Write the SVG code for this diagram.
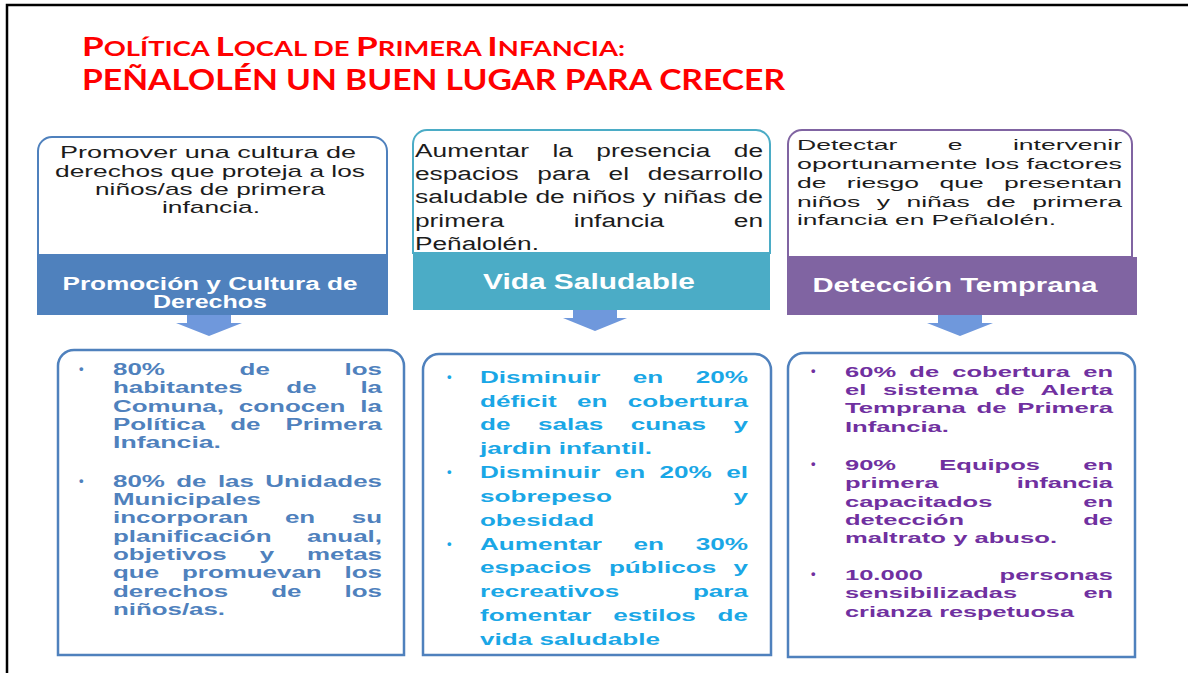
<svg xmlns="http://www.w3.org/2000/svg" width="1188" height="673" viewBox="0 0 1188 673">
<style>
.title{font-family:"Lato","Liberation Sans",Arial,sans-serif;font-weight:bold;fill:#ff0000}
.tt{font-family:"Liberation Sans",Arial,sans-serif;fill:#1c1c1c}
.hd{font-family:"Liberation Sans",Arial,sans-serif;font-weight:bold;fill:#ffffff}
.b1{font-family:"Liberation Sans",Arial,sans-serif;font-weight:bold;font-size:16px;fill:#4f81bd}
.b2{font-family:"Liberation Sans",Arial,sans-serif;font-weight:bold;font-size:16px;fill:#1aa7e6}
.b3{font-family:"Liberation Sans",Arial,sans-serif;font-weight:bold;font-size:15px;fill:#7030a0}
.bul{font-family:"Liberation Sans",Arial,sans-serif;font-size:13px}
.card{fill:#ffffff;stroke-width:2}
.low{fill:#ffffff;stroke:#4f81bd;stroke-width:2.5}
.arrow{fill:#6f98dc}
</style>
<rect x="0" y="0" width="1188" height="673" fill="#ffffff"/>
<rect x="7" y="5" width="1200" height="700" fill="none" stroke="#000000" stroke-width="2.5"/>

<g id="title">
<text class="title" x="82" y="56" textLength="543" lengthAdjust="spacingAndGlyphs"><tspan font-size="27">P</tspan><tspan font-size="21">OLÍTICA </tspan><tspan font-size="27">L</tspan><tspan font-size="21">OCAL DE </tspan><tspan font-size="27">P</tspan><tspan font-size="21">RIMERA </tspan><tspan font-size="27">I</tspan><tspan font-size="21">NFANCIA:</tspan></text>
<text class="title" x="82" y="90" font-size="29" textLength="703" lengthAdjust="spacingAndGlyphs">PEÑALOLÉN UN BUEN LUGAR PARA CRECER</text>
</g>

<g id="node-promocion">
<path class="card" stroke="#4f81bd" d="M38,255 L38,151 A14,14 0 0 1 52,137 L373,137 A14,14 0 0 1 387,151 L387,255 Z"/>
<g class="tt" font-size="17" text-anchor="middle">
<text x="208" y="158" textLength="296" lengthAdjust="spacingAndGlyphs">Promover una cultura de</text>
<text x="210" y="177" textLength="310" lengthAdjust="spacingAndGlyphs">derechos que proteja a los</text>
<text x="210" y="195" textLength="230" lengthAdjust="spacingAndGlyphs">niños/as de primera</text>
<text x="211" y="213" textLength="98" lengthAdjust="spacingAndGlyphs">infancia.</text>
</g>
<rect x="37" y="255" width="351" height="60" fill="#4f81bd"/>
<g class="hd" font-size="18" text-anchor="middle">
<text x="210" y="290" textLength="295" lengthAdjust="spacingAndGlyphs">Promoción y Cultura de</text>
<text x="210" y="308" textLength="114" lengthAdjust="spacingAndGlyphs">Derechos</text>
</g>
</g>

<g id="node-vida">
<path class="card" stroke="#4bacc6" d="M413,253 L413,144 A14,14 0 0 1 427,130 L756,130 A14,14 0 0 1 770,144 L770,253 Z"/>
<g class="tt" font-size="18">
<text x="415" y="157" textLength="348" lengthAdjust="spacingAndGlyphs" style="word-spacing:11.1px">Aumentar la presencia de</text>
<text x="415" y="180" textLength="348" lengthAdjust="spacingAndGlyphs" style="word-spacing:7.8px">espacios para el desarrollo</text>
<text x="415" y="203" textLength="348" lengthAdjust="spacingAndGlyphs">saludable de niños y niñas de</text>
<text x="415" y="227" textLength="348" lengthAdjust="spacingAndGlyphs" style="word-spacing:42.6px">primera infancia en</text>
<text x="415" y="250" textLength="124" lengthAdjust="spacingAndGlyphs">Peñalolén.</text>
</g>
<rect x="413" y="253" width="357" height="57" fill="#4bacc6"/>
<text class="hd" x="589" y="289" font-size="22" text-anchor="middle" textLength="212" lengthAdjust="spacingAndGlyphs">Vida Saludable</text>
</g>

<g id="node-deteccion">
<path class="card" stroke="#8064a2" d="M788,257 L788,144 A14,14 0 0 1 802,130 L1118,130 A14,14 0 0 1 1132,144 L1132,257 Z"/>
<g class="tt" font-size="15.5">
<text x="797" y="150" textLength="325" lengthAdjust="spacingAndGlyphs" style="word-spacing:25.2px">Detectar e intervenir</text>
<text x="797" y="169" textLength="325" lengthAdjust="spacingAndGlyphs">oportunamente los factores</text>
<text x="797" y="188" textLength="325" lengthAdjust="spacingAndGlyphs" style="word-spacing:7.6px">de riesgo que presentan</text>
<text x="797" y="207" textLength="325" lengthAdjust="spacingAndGlyphs" style="word-spacing:5.3px">niños y niñas de primera</text>
<text x="797" y="225" textLength="259" lengthAdjust="spacingAndGlyphs">infancia en Peñalolén.</text>
</g>
<rect x="787" y="257" width="350" height="58" fill="#8064a2"/>
<text class="hd" x="955" y="292" font-size="21" text-anchor="middle" textLength="285" lengthAdjust="spacingAndGlyphs">Detección Temprana</text>
</g>

<g id="connectors">
<path class="arrow" d="M187,315 L231,315 L231,323 L242,323 L209,336 L176,323 L187,323 Z"/>
<path class="arrow" d="M573,310 L617,310 L617,318 L627,318 L595,331 L563,318 L573,318 Z"/>
<path class="arrow" d="M938,315 L982,315 L982,323 L993,323 L960,336 L927,323 L938,323 Z"/>
</g>

<g id="node-metas-promocion">
<path class="low" d="M58,655 L58,366 A16,16 0 0 1 74,350 L388,350 A16,16 0 0 1 404,366 L404,655 Z"/>
<g class="b1">
<text class="bul" x="79" y="373">•</text>
<text class="bul" x="79" y="485">•</text>
<text x="113" y="375" textLength="269" lengthAdjust="spacingAndGlyphs" style="word-spacing:41.7px">80% de los</text>
<text x="113" y="393" textLength="269" lengthAdjust="spacingAndGlyphs" style="word-spacing:22.6px">habitantes de la</text>
<text x="113" y="412" textLength="269" lengthAdjust="spacingAndGlyphs" style="word-spacing:4.8px">Comuna, conocen la</text>
<text x="113" y="430" textLength="269" lengthAdjust="spacingAndGlyphs" style="word-spacing:11px">Política de Primera</text>
<text x="113" y="448" textLength="108" lengthAdjust="spacingAndGlyphs">Infancia.</text>
<text x="113" y="487" textLength="269" lengthAdjust="spacingAndGlyphs" style="word-spacing:2.6px">80% de las Unidades</text>
<text x="113" y="505" textLength="148" lengthAdjust="spacingAndGlyphs">Municipales</text>
<text x="113" y="523" textLength="269" lengthAdjust="spacingAndGlyphs" style="word-spacing:18.1px">incorporan en su</text>
<text x="113" y="542" textLength="269" lengthAdjust="spacingAndGlyphs" style="word-spacing:17.5px">planificación anual,</text>
<text x="113" y="560" textLength="269" lengthAdjust="spacingAndGlyphs" style="word-spacing:15.9px">objetivos y metas</text>
<text x="113" y="578" textLength="269" lengthAdjust="spacingAndGlyphs" style="word-spacing:9.7px">que promuevan los</text>
<text x="113" y="597" textLength="269" lengthAdjust="spacingAndGlyphs" style="word-spacing:22.1px">derechos de los</text>
<text x="113" y="615" textLength="112" lengthAdjust="spacingAndGlyphs">niños/as.</text>
</g>
</g>

<g id="node-metas-vida">
<path class="low" d="M423,655 L423,370 A16,16 0 0 1 439,354 L755,354 A16,16 0 0 1 771,370 L771,655 Z"/>
<g class="b2">
<text class="bul" x="447" y="381">•</text>
<text class="bul" x="447" y="476">•</text>
<text class="bul" x="447" y="548">•</text>
<text x="480" y="383" textLength="268" lengthAdjust="spacingAndGlyphs" style="word-spacing:15.5px">Disminuir en 20%</text>
<text x="480" y="407" textLength="268" lengthAdjust="spacingAndGlyphs" style="word-spacing:8px">déficit en cobertura</text>
<text x="480" y="430" textLength="268" lengthAdjust="spacingAndGlyphs" style="word-spacing:12.4px">de salas cunas y</text>
<text x="480" y="454" textLength="172" lengthAdjust="spacingAndGlyphs">jardin infantil.</text>
<text x="480" y="478" textLength="268" lengthAdjust="spacingAndGlyphs" style="word-spacing:4.4px">Disminuir en 20% el</text>
<text x="480" y="502" textLength="268" lengthAdjust="spacingAndGlyphs" style="word-spacing:70px">sobrepeso y</text>
<text x="480" y="526" textLength="114" lengthAdjust="spacingAndGlyphs">obesidad</text>
<text x="480" y="550" textLength="268" lengthAdjust="spacingAndGlyphs" style="word-spacing:15px">Aumentar en 30%</text>
<text x="480" y="573" textLength="268" lengthAdjust="spacingAndGlyphs" style="word-spacing:6.2px">espacios públicos y</text>
<text x="480" y="597" textLength="268" lengthAdjust="spacingAndGlyphs" style="word-spacing:40.8px">recreativos para</text>
<text x="480" y="621" textLength="268" lengthAdjust="spacingAndGlyphs" style="word-spacing:8.9px">fomentar estilos de</text>
<text x="480" y="645" textLength="180" lengthAdjust="spacingAndGlyphs">vida saludable</text>
</g>
</g>

<g id="node-metas-deteccion">
<path class="low" d="M788,657 L788,369 A16,16 0 0 1 804,353 L1119,353 A16,16 0 0 1 1135,369 L1135,657 Z"/>
<g class="b3">
<text class="bul" x="811" y="375">•</text>
<text class="bul" x="811" y="468">•</text>
<text class="bul" x="811" y="578">•</text>
<text x="845" y="377" textLength="268" lengthAdjust="spacingAndGlyphs" style="word-spacing:3.6px">60% de cobertura en</text>
<text x="845" y="395" textLength="268" lengthAdjust="spacingAndGlyphs" style="word-spacing:5.6px">el sistema de Alerta</text>
<text x="845" y="413" textLength="268" lengthAdjust="spacingAndGlyphs" style="word-spacing:2.1px">Temprana de Primera</text>
<text x="845" y="432" textLength="104" lengthAdjust="spacingAndGlyphs">Infancia.</text>
<text x="845" y="470" textLength="268" lengthAdjust="spacingAndGlyphs" style="word-spacing:21.3px">90% Equipos en</text>
<text x="845" y="488" textLength="268" lengthAdjust="spacingAndGlyphs" style="word-spacing:41.8px">primera infancia</text>
<text x="845" y="507" textLength="268" lengthAdjust="spacingAndGlyphs" style="word-spacing:49.3px">capacitados en</text>
<text x="845" y="525" textLength="268" lengthAdjust="spacingAndGlyphs" style="word-spacing:66px">detección de</text>
<text x="845" y="543" textLength="212" lengthAdjust="spacingAndGlyphs">maltrato y abuso.</text>
<text x="845" y="580" textLength="268" lengthAdjust="spacingAndGlyphs" style="word-spacing:40.9px">10.000 personas</text>
<text x="845" y="598" textLength="268" lengthAdjust="spacingAndGlyphs" style="word-spacing:35.1px">sensibilizadas en</text>
<text x="845" y="617" textLength="229" lengthAdjust="spacingAndGlyphs">crianza respetuosa</text>
</g>
</g>
</svg>
